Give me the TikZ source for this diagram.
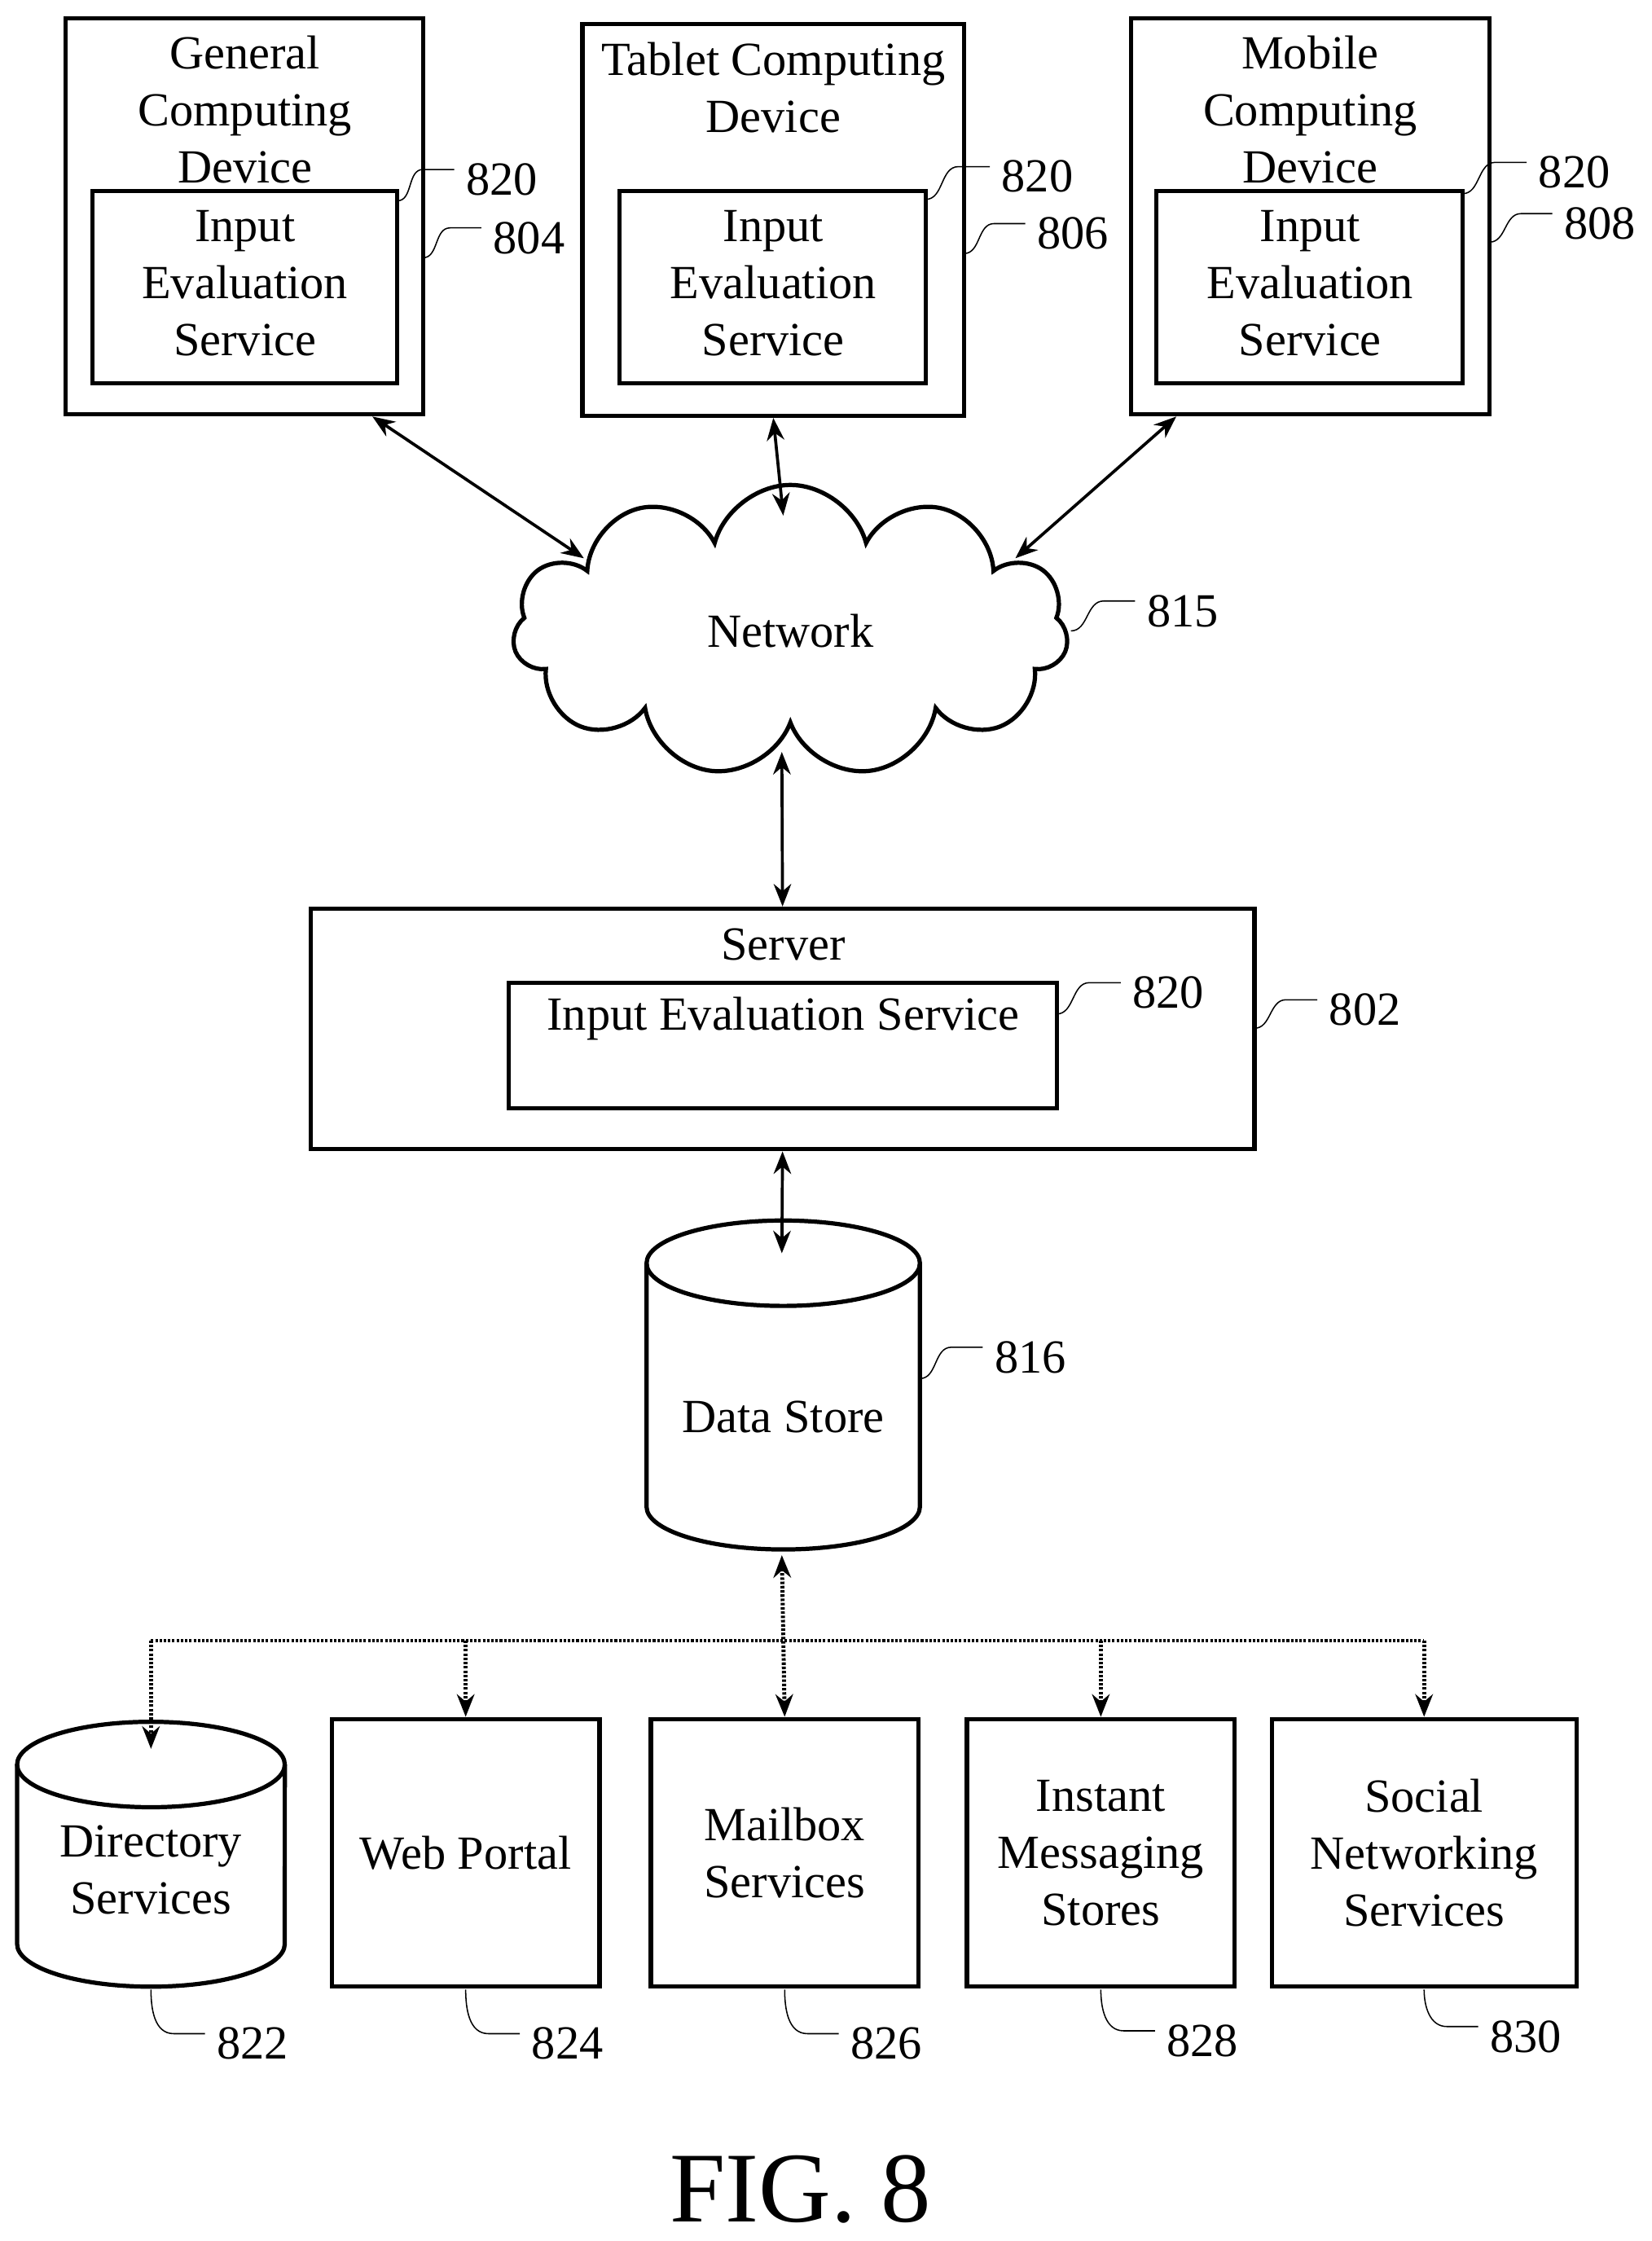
\documentclass[tikz,border=0pt]{standalone}
\usepackage{fontspec}
\setmainfont{Liberation Serif}
\usetikzlibrary{shapes.symbols,arrows.meta}

\tikzset{
  box/.style={draw, line width=1.7pt, inner sep=0pt},
  txt/.style={align=center, font=\fontsize{19}{22.8}\selectfont, inner sep=0pt},
  num/.style={anchor=west, xshift=0.16cm, yshift=-0.14cm, font=\fontsize{19}{22.8}\selectfont, inner sep=0pt},
  lead/.style={line width=0.5pt},
  link/.style={line width=1.2pt, {Stealth[length=9pt,width=7pt]}-{Stealth[length=9pt,width=7pt]}},
  feed/.style={line width=1.6pt, dash pattern=on 1pt off 0.7pt}
}
% leader line from an edge to its reference number
\newcommand{\callout}[4]{\draw[lead] #1 to[out=#2,in=180] #3 -- ++(22,0) node[num]{#4};}

\begin{document}
\begin{tikzpicture}[x=0.02cm, y=-0.02cm]
  \useasboundingbox (0,0) rectangle (1160,1573.6);

  % client devices
  \node[box, minimum width=5.02cm, minimum height=5.56cm] (gen) at (171.5,152) {};
  \node[box, minimum width=4.28cm, minimum height=2.7cm] (genin) at (172,201.5) {};
  \node[txt] (gent) at (172,77) {General\\Computing\\Device};
  \node[txt] (genit) at (172,199) {Input\\Evaluation\\Service};

  \node[box, minimum width=5.36cm, minimum height=5.5cm] (tab) at (543,154.5) {};
  \node[box, minimum width=4.3cm, minimum height=2.7cm] (tabin) at (542.5,201.5) {};
  \node[txt] (tabt) at (543,61.5) {Tablet Computing\\Device};
  \node[txt] (tabit) at (543,199) {Input\\Evaluation\\Service};

  \node[box, minimum width=5.04cm, minimum height=5.56cm] (mob) at (920,152) {};
  \node[box, minimum width=4.3cm, minimum height=2.7cm] (mobin) at (919.5,201.5) {};
  \node[txt] (mobt) at (920,77) {Mobile\\Computing\\Device};
  \node[txt] (mobit) at (920,199) {Input\\Evaluation\\Service};

  % network
  \node[cloud, draw, line width=1.7pt, cloud puffs=11, aspect=1.9, minimum width=7.8cm, minimum height=4.1cm, txt] (net) at (555,443) {Network};

  % server
  \node[box, minimum width=13.26cm, minimum height=3.38cm] (srv) at (549.5,722.5) {};
  \node[box, minimum width=7.7cm, minimum height=1.76cm] (srvin) at (549.5,734) {};
  \node[txt] (srvt) at (550,663) {Server};
  \node[txt] (srvit) at (550,715) {Input Evaluation Service};

  % data store
  \draw[box] (550,887) ellipse [x radius=1.92cm, y radius=0.6cm];
  \draw[box] (454,887) -- (454,1058) arc[start angle=180, end angle=360, x radius=1.92cm, y radius=0.6cm] -- (646,887);
  \node[txt] (store) at (550,995) {Data Store};

  % back-end services
  \draw[box] (106,1239) ellipse [x radius=1.88cm, y radius=0.6cm];
  \draw[box] (12,1239) -- (12,1365) arc[start angle=180, end angle=360, x radius=1.88cm, y radius=0.6cm] -- (200,1239);
  \node[txt] (dir) at (106,1313) {Directory\\Services};
  \node[box, minimum width=3.76cm, minimum height=3.76cm, txt] (web) at (327,1301) {Web Portal};
  \node[box, minimum width=3.76cm, minimum height=3.76cm, txt] (mail) at (551,1301) {Mailbox\\Services};
  \node[box, minimum width=3.76cm, minimum height=3.76cm, txt] (inst) at (773,1301) {Instant\\Messaging\\Stores};
  \node[box, minimum width=4.28cm, minimum height=3.76cm, txt] (soc) at (1000,1301) {Social\\Networking\\Services};

  % connection points
  \coordinate (n1) at (410,392);
  \coordinate (n2) at (550,362);
  \coordinate (n3) at (713,392);
  \coordinate (n4) at (549,528);
  \coordinate (dtop) at (549,880);
  \coordinate (dbot) at (549,1092);
  \coordinate (dirtop) at (106,1228);
  \coordinate (busl) at (106,1152);
  \coordinate (busr) at (1000,1152);

  % connectors
  \draw[link] ([xshift=1.8cm]gen.south) -- (n1);
  \draw[link] (tab.south) -- (n2);
  \draw[link] ([xshift=-1.88cm]mob.south) -- (n3);
  \draw[link] (n4) -- (srv.north);
  \draw[link] (srv.south) -- (dtop);
  \draw[feed] (busl) -- (busr);
  \draw[feed, {Stealth[length=9pt,width=7pt]}-{Stealth[length=9pt,width=7pt]}] (dbot) -- (mail.north);
  \draw[feed, -{Stealth[length=9pt,width=7pt]}] (busl) -- (dirtop);
  \draw[feed, -{Stealth[length=9pt,width=7pt]}] (busl -| web.north) -- (web.north);
  \draw[feed, -{Stealth[length=9pt,width=7pt]}] (busl -| inst.north) -- (inst.north);
  \draw[feed, -{Stealth[length=9pt,width=7pt]}] (busr) -- (soc.north);

  % reference numbers
  \callout{(279,141)}{0}{(297,119)}{820}
  \callout{(297,181)}{0}{(316,160)}{804}
  \callout{(650,140)}{0}{(673,117)}{820}
  \callout{(677,178)}{0}{(698,157)}{806}
  \callout{(1027,136)}{0}{(1050,114)}{820}
  \callout{(1046,170)}{0}{(1068,150)}{808}
  \callout{(752,443)}{0}{(775,422)}{815}
  \callout{(742,712)}{0}{(765,690)}{820}
  \callout{(881,722)}{0}{(903,702)}{802}
  \callout{(646,968)}{0}{(668,946)}{816}
  \callout{(106,1397)}{-90}{(122,1428)}{822}
  \callout{(327,1397)}{-90}{(343,1428)}{824}
  \callout{(551,1397)}{-90}{(567,1428)}{826}
  \callout{(773,1397)}{-90}{(789,1426)}{828}
  \callout{(1000,1397)}{-90}{(1016,1423)}{830}

  \node[font=\fontsize{40}{48}\selectfont, inner sep=0pt] (fig) at (562,1537) {FIG. 8};
\end{tikzpicture}
\end{document}
